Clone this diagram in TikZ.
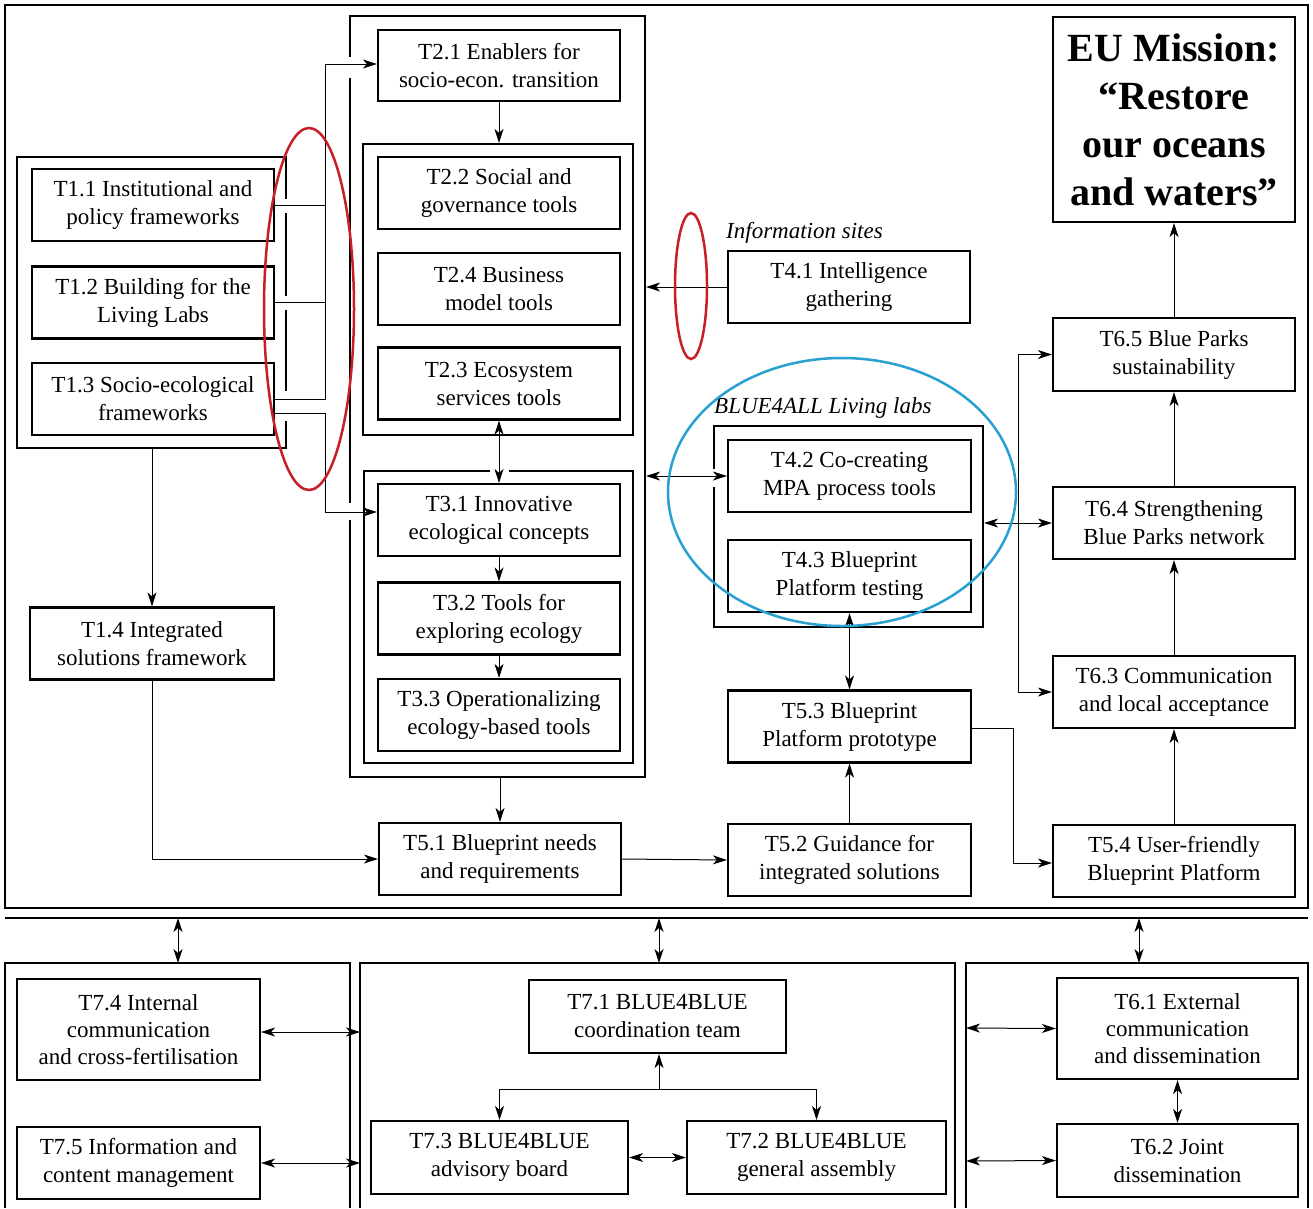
\documentclass[tikz,border=0pt]{standalone}
\usepackage{fontspec}
\setmainfont{Liberation Serif}
\usetikzlibrary{arrows.meta,shapes.geometric}
\newcommand{\tf}{\fontsize{23}{28}\selectfont}
\begin{document}
\begin{tikzpicture}[x=1pt,y=-1pt,
 task/.style={draw, line width=2.2pt, align=center, inner sep=0pt, font=\tf, minimum width=242pt, minimum height=72pt},
 grp/.style={draw, line width=2.2pt, inner sep=0pt},
 frm/.style={draw, line width=1.8pt},
 arr/.style={line width=1pt, -{Stealth[length=14pt,width=9pt,inset=4pt]}},
 darr/.style={line width=1pt, {Stealth[length=14pt,width=9pt,inset=4pt]}-{Stealth[length=14pt,width=9pt,inset=4pt]}},
 conn/.style={line width=1pt},
 gap/.style={fill=white},
 lbl/.style={font=\tf\itshape, anchor=west, inner sep=0pt},
 redring/.style={draw={rgb,255:red,200;green,30;blue,40}, line width=2.5pt},
 bluering/.style={draw={rgb,255:red,40;green,160;blue,210}, line width=2.5pt}]
\useasboundingbox (0,0) rectangle (1313,1208);
\fill[white] (0,0) rectangle (1313,1208);

% frames
\draw[frm] (5,5) rectangle (1308,908);
\draw[frm] (5,918) -- (1308,918);
\draw[frm] (5,1208) -- (5,963) -- (350,963) -- (350,1208);
\draw[frm] (360,1208) -- (360,963) -- (955,963) -- (955,1208);
\draw[frm] (966,1208) -- (966,963) -- (1308,963) -- (1308,1208);
\coordinate (fa1) at (178,918); \coordinate (fb1) at (178,963);
\coordinate (fa2) at (659,918); \coordinate (fb2) at (659,963);
\coordinate (fa3) at (1139,918); \coordinate (fb3) at (1139,963);

% groups
\node[grp, minimum width=295pt, minimum height=761pt] (g2) at (497.5,396.5) {};
\node[grp, minimum width=270pt, minimum height=291pt] (g2in) at (498,289.5) {};
\node[grp, minimum width=269pt, minimum height=292pt] (g3) at (498.5,617) {};
\node[grp, minimum width=269pt, minimum height=291pt] (g1) at (151.5,302.5) {};
\node[grp, minimum width=269pt, minimum height=201pt] (gll) at (848.5,526.5) {};

% gaps in group borders
\fill[gap] (282,199) rectangle (290,213);
\fill[gap] (282,296) rectangle (290,310);
\fill[gap] (282,391) rectangle (290,421);
\fill[gap] (346,57) rectangle (354,78);
\fill[gap] (346,503) rectangle (354,520);
\fill[gap] (490,467) rectangle (509,475);
\fill[gap] (710,469) rectangle (718,487);

% task nodes
\node[task, minimum height=71pt] (t21) at (499,65.5) {T2.1 Enablers for\\socio-econ. transition};
\node[task] (t22) at (499,193) {T2.2 Social and\\governance tools};
\node[task] (t24) at (499,289) {T2.4 Business\\model tools};
\node[task] (t23) at (499,383.5) {T2.3 Ecosystem\\services tools};
\node[task] (t31) at (499,520) {T3.1 Innovative\\ecological concepts};
\node[task] (t32) at (499,618.5) {T3.2 Tools for\\exploring ecology};
\node[task] (t33) at (499,715) {T3.3 Operationalizing\\ecology-based tools};
\node[task] (t51) at (500,859) {T5.1 Blueprint needs\\and requirements};
\node[task] (t11) at (153,205) {T1.1 Institutional and\\policy frameworks};
\node[task] (t12) at (153,302.5) {T1.2 Building for the\\Living Labs};
\node[task] (t13) at (153,399) {T1.3 Socio-ecological\\frameworks};
\node[task, minimum width=244pt] (t14) at (152,643.5) {T1.4 Integrated\\solutions framework};
\node[task] (t41) at (849,287) {T4.1 Intelligence\\gathering};
\node[task, minimum width=243pt] (t42) at (849.5,476) {T4.2 Co-creating\\MPA process tools};
\node[task, minimum width=243pt] (t43) at (849.5,576) {T4.3 Blueprint\\Platform testing};
\node[task, minimum width=243pt] (t53) at (849.5,726.5) {T5.3 Blueprint\\Platform prototype};
\node[task, minimum width=243pt] (t52) at (849.5,860) {T5.2 Guidance for\\integrated solutions};
\node[task, minimum height=205pt, font=\fontsize{40}{48}\selectfont\bfseries] (eu) at (1174,119.5) {EU Mission:\\“Restore\\our oceans\\and waters”};
\node[task, minimum height=73pt] (t65) at (1174,354.5) {T6.5 Blue Parks\\sustainability};
\node[task] (t64) at (1174,523) {T6.4 Strengthening\\Blue Parks network};
\node[task] (t63) at (1174,692) {T6.3 Communication\\and local acceptance};
\node[task] (t54) at (1174,861) {T5.4 User-friendly\\Blueprint Platform};
\node[task, minimum width=243pt, minimum height=101pt, font=\fontsize{23}{27}\selectfont] (t74) at (138.5,1029.5) {T7.4 Internal\\communication\\and cross-fertilisation};
\node[task, minimum width=243pt] (t75) at (138.5,1163) {T7.5 Information and\\content management};
\node[task, minimum width=257pt, minimum height=73pt] (t71) at (657.5,1016.5) {T7.1 BLUE4BLUE\\coordination team};
\node[task, minimum width=257pt, minimum height=73pt] (t73) at (499.5,1157.5) {T7.3 BLUE4BLUE\\advisory board};
\node[task, minimum width=259pt, minimum height=73pt] (t72) at (816.5,1157.5) {T7.2 BLUE4BLUE\\general assembly};
\node[task, minimum width=241pt, minimum height=101pt, font=\fontsize{23}{27}\selectfont] (t61) at (1177.5,1028.5) {T6.1 External\\communication\\and dissemination};
\node[task, minimum width=241pt, minimum height=73pt] (t62) at (1177.5,1160.5) {T6.2 Joint\\dissemination};

% labels
\node[lbl] (lis) at (726,233) {Information sites};
\node[lbl] (lll) at (714,408) {BLUE4ALL Living labs};

% connectors: T1 group
\coordinate (jx) at (325,206);
\draw[conn] (t11.east) -- (t11.east -| jx);
\draw[conn] (t12.east) -- (t12.east -| jx);
\draw[arr] (t13.east) -- (t13.east -| jx) |- ([yshift=1.5pt]t21.west);
\draw[arr] ([yshift=-14pt]t13.east) -- ([yshift=-14pt]t13.east -| jx) |- ([yshift=8pt]t31.west);
\draw[arr] (g1.south -| t14.north) -- (t14.north);
\draw[arr] (t14.south) |- (t51.west);

% T2/T3 column
\draw[arr] (t21.south) -- (t21.south |- g2in.north);
\draw[darr] (t23.south) -- (t31.north);
\draw[arr] (t31.south) -- (t32.north);
\draw[arr] (t32.south) -- (t33.north);
\draw[arr] (t51.north |- g2.south) -- (t51.north);

% T4 / T5 column
\draw[arr] (t41.west) -- (t41.west -| g2.east);
\draw[darr] (t42.west -| g2.east) -- (t42.west);
\draw[darr] (t43.south) -- (t53.north);
\draw[arr] (t52.north) -- (t53.south);
\draw[arr] (t51.east) -- (t52.west);
\coordinate (jr) at (1013,728);
\draw[arr] ([yshift=-1.5pt]t53.east) -- (jr) |- ([yshift=-2pt]t54.west);

% T6 column
\draw[darr] (gll.east |- t64.west) -- (t64.west);
\coordinate (jv) at (1018,523);
\draw[arr] (jv) |- (t65.west);
\draw[arr] (jv) |- (t63.west);
\draw[arr] (t54.north) -- (t63.south);
\draw[arr] (t63.north) -- (t64.south);
\draw[arr] (t64.north) -- (t65.south);
\draw[arr] (t65.north) -- (eu.south);

% between top frame and bottom
\draw[darr] (fa1) -- (fb1);
\draw[darr] (fa2) -- (fb2);
\draw[darr] (fa3) -- (fb3);

% bottom
\coordinate (bl) at (360,1032);
\coordinate (bl2) at (360,1163);
\coordinate (br) at (966,1028);
\coordinate (br2) at (966,1161);
\draw[darr] (t74.east |- bl) -- (bl);
\draw[darr] (t75.east) -- (bl2);
\draw[darr] (br) -- (t61.west);
\draw[darr] (br2) -- (t62.west);
\draw[darr] (t73.east) -- (t72.west);
\draw[darr] (t61.south) -- (t62.north);
\coordinate (jt) at (659,1089);
\draw[arr] (jt) -- (jt |- t71.south);
\draw[arr] (jt) -| (t73.north);
\draw[arr] (jt) -| (t72.north);

% highlight rings
\draw[redring] (309,309) ellipse [x radius=45pt, y radius=181pt];
\draw[redring] (691,286) ellipse [x radius=16pt, y radius=73pt];
\draw[bluering] (842,492) ellipse [x radius=174pt, y radius=134pt];
\end{tikzpicture}
\end{document}
